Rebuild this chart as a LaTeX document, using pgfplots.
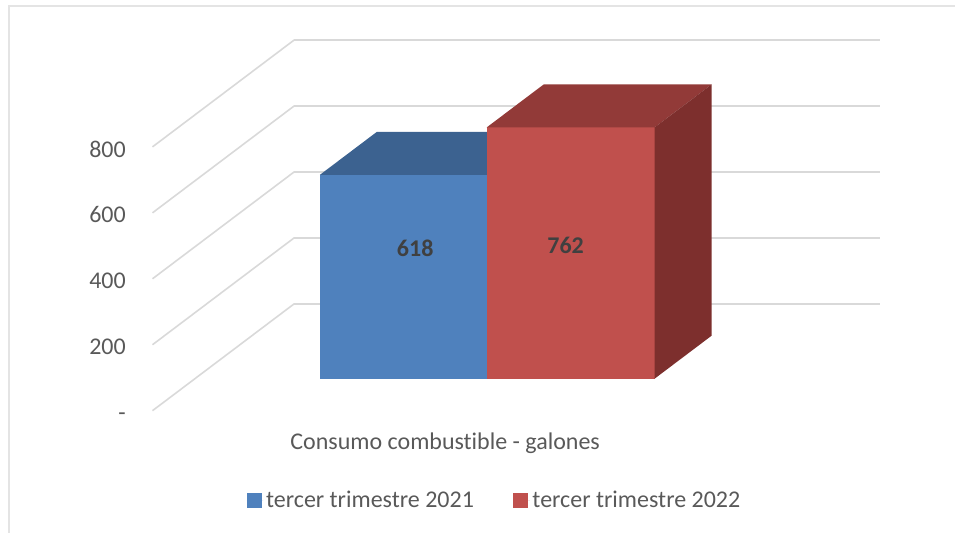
\documentclass[border=0pt]{standalone}
\usepackage{fontspec}
\setmainfont[Ligatures=NoCommon]{Carlito}
\usepackage{pgfplots}
\pgfplotsset{compat=1.18}
\definecolor{blueFront}{HTML}{4F81BD}
\definecolor{blueTop}{HTML}{3C6290}
\definecolor{redFront}{HTML}{C0504D}
\definecolor{redTop}{HTML}{923A38}
\definecolor{redSide}{HTML}{7D2F2D}
\definecolor{gridgray}{HTML}{D9D9D9}
\definecolor{framegray}{HTML}{E4E4E4}
\definecolor{txt}{HTML}{595959}
\definecolor{lbl}{HTML}{404040}
\begin{document}
\begin{tikzpicture}
\begin{axis}[
    x={(0.75pt,0pt)},
    y={(42.75pt,32.25pt)},
    z={(0pt,0.2475pt)},
    xmin=195, xmax=781,
    ymin=-0.744, ymax=1.744,
    zmin=0, zmax=800,
    clip=false,
    axis line style={draw=none},
    tick style={draw=none},
    xtick=\empty, ytick=\empty,
    ztick={0,200,400,600,800},
    zticklabels={\raisebox{-3.2pt}{-},200,400,600,800},
    grid=major,
    major grid style={gridgray, line width=1.2pt},
    tick label style={font=\fontsize{18}{20}\selectfont, text=txt,
        text height=11.3pt, text depth=0pt, xshift=-16.5pt, yshift=3.8pt},
    /pgf/number format/assume math mode=true,
    legend columns=2,
    legend style={draw=none, fill=none, font=\fontsize{18}{20}\selectfont, text=txt,
        at={(axis description cs:0.4707,-0.2425)}, anchor=center,
        /tikz/every even column/.append style={column sep=27.5pt}},
    legend image code/.code={\fill[#1] (0pt,-5.4pt) rectangle (11.25pt,5.4pt); \path (0pt,0pt) -- (12.5pt,0pt);},
]
% blue bar, 618
\addplot3[fill=blueFront, draw=none] coordinates {(320,0,0) (487,0,0) (487,0,618) (320,0,618)} -- cycle;
\addlegendentry{tercer trimestre 2021}
\addplot3[fill=blueTop, draw=none, forget plot] coordinates {(320,0,618) (487,0,618) (487,1,618) (320,1,618)} -- cycle;
% red bar, 762
\addplot3[fill=redFront, draw=none] coordinates {(487,0,0) (655,0,0) (655,0,762) (487,0,762)} -- cycle;
\addlegendentry{tercer trimestre 2022}
\addplot3[fill=redTop, draw=none, forget plot] coordinates {(487,0,762) (655,0,762) (655,1,762) (487,1,762)} -- cycle;
\addplot3[fill=redSide, draw=none, forget plot] coordinates {(655,0,0) (655,1,0) (655,1,762) (655,0,762)} -- cycle;
% data labels
\node[font=\fontsize{18}{20}\selectfont\bfseries, text=lbl] at (axis cs:415.5,0,394) {618};
\node[font=\fontsize{18}{20}\selectfont\bfseries, text=lbl] at (axis cs:566,0,403) {762};
\node[font=\fontsize{18}{20}\selectfont, text=txt] at (axis cs:445.5,0,-196) {Consumo combustible - galones};
% page and chart frame
\path (axis cs:0,0,-466.67) rectangle (axis cs:956,0,1148.48);
\draw[framegray, line width=1pt] (axis cs:9,0,-466.67) -- (axis cs:9,0,1130.3) -- (axis cs:956,0,1130.3);
\end{axis}
\end{tikzpicture}
\end{document}
